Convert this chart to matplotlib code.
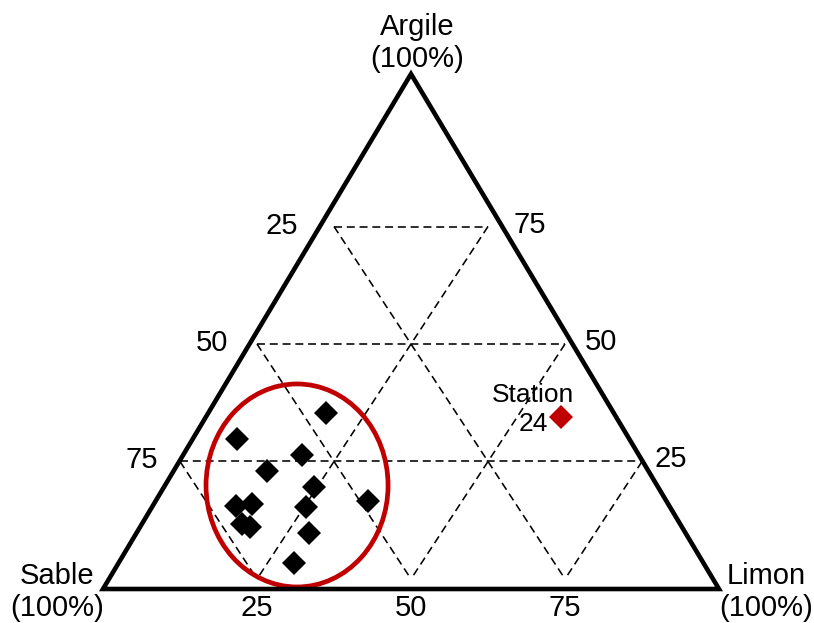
import matplotlib
matplotlib.use("Agg")
import matplotlib.pyplot as plt
from matplotlib.patches import Polygon, Ellipse

plt.rcParams['font.family'] = ['Liberation Sans', 'DejaVu Sans']

# ---- data (percent) ----
argile = [35.3, 29.8, 26.4, 23.0, 19.6, 16.6, 15.5, 16.0, 15.3, 11.7, 11.1, 9.8, 3.4]
limon  = [18.6, 6.9, 19.1, 15.1, 24.5, 34.7, 13.8, 16.2, 25.3, 16.7, 18.3, 28.5, 29.3]
sable  = [46.1, 63.3, 54.5, 61.9, 55.9, 48.7, 70.7, 67.8, 59.4, 71.6, 70.6, 61.7, 67.3]

station_argile = [34.5]
station_limon = [57.1]
station_sable = [8.4]
station_label = "Station\n24"

grid_levels = [25, 50, 75]
left_labels = ["25", "50", "75"]      # at argile = 75, 50, 25
right_labels = ["75", "50", "25"]     # at argile = 75, 50, 25
bottom_labels = ["25", "50", "75"]    # at limon = 25, 50, 75
corner_labels = {"top": "Argile\n(100%)", "left": "Sable\n(100%)", "right": "Limon\n(100%)"}


def tern(a, l):
    """(argile, limon) in percent -> cartesian data coords."""
    a = a / 100.0
    l = l / 100.0
    return l + a / 2.0, a


W, H = 814, 623
fig = plt.figure(figsize=(W / 100, H / 100), dpi=100)
Y0, Y1 = -0.0213, 1.0745
ax = fig.add_axes([103 / W, (H - 589) / H, 616 / W, (589 - 74) / H])
ax.set_xlim(0, 1)
ax.set_ylim(Y0, Y1)
ax.axis('off')

# outer frame
frame = Polygon([(0, 0), (1, 0), (0.5, 1)], closed=True, fill=False,
                edgecolor='black', linewidth=3.3, transform=ax.transAxes,
                joinstyle='miter', clip_on=False, zorder=3)
ax.add_patch(frame)

# dashed grid
gkw = dict(color='black', linewidth=1.15, linestyle=(0, (5, 3)), zorder=1)
for g in grid_levels:
    # constant argile
    x1, y1 = tern(g, 0)
    x2, y2 = tern(g, 100 - g)
    ax.plot([x1, x2], [y1, y2], **gkw)
    # constant sable
    x1, y1 = tern(100 - g, 0)
    x2, y2 = tern(0, 100 - g)
    ax.plot([x1, x2], [y1, y2], **gkw)
    # constant limon
    x1, y1 = tern(100 - g, g)
    x2, y2 = tern(0, g)
    ax.plot([x1, x2], [y1, y2], **gkw)

# samples
pts = [tern(a, l) for a, l in zip(argile, limon)]
ax.plot([p[0] for p in pts], [p[1] for p in pts], linestyle='none', marker='D',
        markersize=12.3, color='black', markeredgewidth=0, zorder=4)

sp = [tern(a, l) for a, l in zip(station_argile, station_limon)]
ax.plot([p[0] for p in sp], [p[1] for p in sp], linestyle='none', marker='D',
        markersize=12.3, color='#C00000', markeredgewidth=0, zorder=4)
ax.annotate(station_label, xy=sp[0], xytext=(-28, 7), textcoords='offset pixels',
            ha='center', va='center', fontsize=19, linespacing=1.25, zorder=5)

# highlight ellipse
ax.add_patch(Ellipse((0.315, 0.199), 0.2955, 0.432, fill=False,
                     edgecolor='#C00000', linewidth=3.4, zorder=2))

FS = 21


def frame_x(y, side):
    ya = (y - Y0) / (Y1 - Y0)
    xa = 0.5 * ya
    return xa if side == 'left' else 1 - xa


for g, lab in zip([75, 50, 25], left_labels):
    _, y = tern(g, 0)
    ax.annotate(lab, xy=(frame_x(y, 'left'), y), xytext=(-38, 1), textcoords='offset pixels',
                ha='center', va='center', fontsize=FS, annotation_clip=False)
for g, lab in zip([75, 50, 25], right_labels):
    _, y = tern(g, 0)
    ax.annotate(lab, xy=(frame_x(y, 'right'), y), xytext=(28, 2), textcoords='offset pixels',
                ha='center', va='center', fontsize=FS, annotation_clip=False)
for g, lab in zip(grid_levels, bottom_labels):
    ax.annotate(lab, xy=tern(0, g), xytext=(0, -29), textcoords='offset pixels',
                ha='center', va='center', fontsize=FS, annotation_clip=False)

ax.annotate(corner_labels["top"], xy=(0.5, 1), xycoords=ax.transAxes, xytext=(6, 31),
            textcoords='offset pixels', ha='center', va='center', fontsize=FS,
            linespacing=1.15, annotation_clip=False)
ax.annotate(corner_labels["left"], xy=(0, 0), xycoords=ax.transAxes, xytext=(-46, -3),
            textcoords='offset pixels', ha='center', va='center', fontsize=FS,
            linespacing=1.15, annotation_clip=False)
ax.annotate(corner_labels["right"], xy=(1, 0), xycoords=ax.transAxes, xytext=(47, -3),
            textcoords='offset pixels', ha='center', va='center', fontsize=FS,
            linespacing=1.15, annotation_clip=False)

fig.savefig("out.png", dpi=100, facecolor='white')
